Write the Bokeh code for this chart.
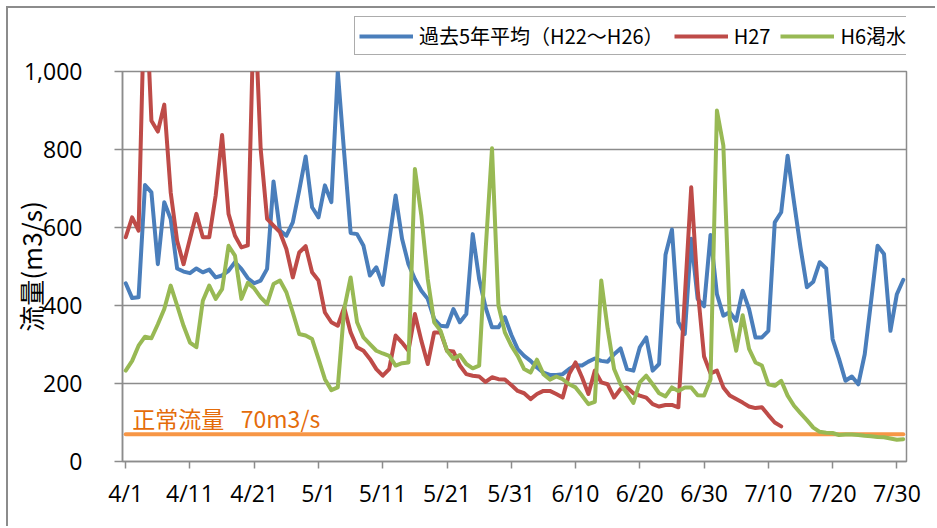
from bokeh.plotting import figure
from bokeh.layouts import column
from bokeh.models import (Range1d, FixedTicker, NumeralTickFormatter, Legend,
                          LegendItem, Label)
from bokeh.embed import file_html
from bokeh.resources import INLINE

# ---------------- data ----------------
TICK_DAYS = [0, 10, 20, 30, 40, 50, 60, 70, 80, 90, 100, 110, 120]
TICK_LABELS = ["4/1", "4/11", "4/21", "5/1", "5/11", "5/21", "5/31",
               "6/10", "6/20", "6/30", "7/10", "7/20", "7/30"]
Y_TICKS = [0, 200, 400, 600, 800, 1000]

SERIES_NAMES = ["過去5年平均（H22～H26）", "H27", "H6渇水"]

# daily flow 4/1 .. 7/31 (m3/s)
PAST5 = [457, 419, 421, 709, 690, 506, 665, 622, 495, 487,
         483, 495, 485, 492, 472, 477, 489, 511, 494, 470,
         457, 464, 494, 718, 592, 579, 613, 695, 782, 652,
         626, 708, 665, 1000, 790, 586, 583, 553, 477, 498,
         453, 566, 682, 571, 506, 468, 438, 417, 365, 348,
         346, 391, 357, 378, 583, 468, 395, 344, 344, 370,
         325, 288, 271, 258, 241, 228, 222, 222, 224, 237,
         247, 246, 256, 264, 258, 256, 275, 290, 237, 233,
         293, 318, 233, 250, 530, 595, 357, 327, 571, 417,
         398, 581, 429, 374, 383, 361, 438, 391, 318, 318,
         335, 613, 639, 784, 665, 549, 447, 461, 511, 495,
         314, 263, 207, 218, 198, 275, 412, 553, 532, 335,
         429, 466]

H27 = [575, 626, 592, 1250, 874, 846, 915, 690, 566, 506,
       571, 635, 575, 575, 682, 837, 635, 579, 549, 554,
       1200, 802, 622, 605, 588, 545, 472, 536, 552, 485,
       464, 382, 357, 348, 395, 331, 293, 284, 263, 237,
       220, 237, 323, 305, 284, 378, 310, 250, 331, 331,
       284, 282, 246, 224, 220, 218, 204, 216, 211, 210,
       196, 181, 175, 160, 173, 181, 181, 173, 164, 224,
       254, 216, 173, 233, 203, 198, 164, 186, 190, 175,
       169, 164, 147, 141, 145, 145, 139, 421, 703, 442,
       269, 226, 233, 190, 169, 160, 151, 141, 137, 139,
       119, 100, 90]

H6 = [233, 258, 297, 320, 316, 352, 391, 451, 400, 348,
      305, 293, 412, 451, 417, 442, 553, 528, 417, 458,
      444, 421, 404, 455, 464, 434, 382, 327, 323, 314,
      263, 211, 183, 190, 391, 472, 357, 318, 301, 284,
      277, 271, 246, 252, 254, 750, 631, 468, 357, 335,
      284, 263, 273, 250, 239, 246, 540, 803, 400, 331,
      297, 271, 237, 228, 261, 224, 210, 218, 211, 198,
      190, 169, 147, 153, 464, 340, 237, 198, 175, 150,
      203, 220, 198, 175, 167, 190, 181, 190, 190, 170,
      169, 210, 900, 810, 365, 284, 375, 289, 254, 246,
      198, 194, 207, 169, 143, 124, 106, 87, 76, 74,
      73, 68, 69, 69, 68, 66, 65, 63, 62, 59, 56, 57]

NORMAL_FLOW = 70
NORMAL_LABEL = "正常流量\u2002 70m3/s"
Y_LABEL = "流量(m3/s)"

DAYS = list(range(len(PAST5)))
SERIES = [PAST5, H27, H6]

# ---------------- style ----------------
BLUE = "#4A7EBB"
RED = "#BE4B48"
GREEN = "#98B954"
ORANGE = "#F79646"
ORANGE_TEXT = "#E46C0A"
GRAY = "#8C8C8C"
LATIN = "Open Sans"
CJK = "Noto Sans CJK JP"
COLORS = [BLUE, RED, GREEN]
LINE_W = 4

# ---------------- main chart ----------------
p = figure(width=927, height=471, output_backend="svg", toolbar_location=None,
           x_range=Range1d(-0.5, len(DAYS) - 0.5), y_range=Range1d(0, 1000),
           min_border_left=107, min_border_right=29,
           min_border_top=16, min_border_bottom=65)

p.background_fill_color = "white"
p.border_fill_color = "white"
p.outline_line_color = GRAY
p.outline_line_width = 1.5

p.xgrid.visible = False
p.ygrid.grid_line_color = GRAY
p.ygrid.grid_line_width = 1.5
p.ygrid.ticker = FixedTicker(ticks=Y_TICKS)

p.xaxis.ticker = FixedTicker(ticks=TICK_DAYS)
p.xaxis.major_label_overrides = {d: l for d, l in zip(TICK_DAYS, TICK_LABELS)}
p.yaxis.ticker = FixedTicker(ticks=Y_TICKS)
p.yaxis.formatter = NumeralTickFormatter(format="0,0")

for ax in (p.xaxis[0], p.yaxis[0]):
    ax.axis_line_color = GRAY
    ax.axis_line_width = 1.5
    ax.major_tick_line_color = GRAY
    ax.major_tick_line_width = 1.5
    ax.major_tick_in = 0
    ax.minor_tick_line_color = None
    ax.major_label_text_font = LATIN
    ax.major_label_text_font_size = "23px"
    ax.major_label_text_color = "#000000"

p.xaxis.major_tick_out = 7
p.xaxis.major_label_standoff = 8
p.yaxis.major_tick_out = 8
p.yaxis.major_label_standoff = 32

p.yaxis.axis_label = Y_LABEL
p.yaxis.axis_label_text_font = CJK
p.yaxis.axis_label_text_font_size = "26px"
p.yaxis.axis_label_text_font_style = "normal"
p.yaxis.axis_label_text_color = "#000000"
p.yaxis.axis_label_standoff = -28

line_kw = dict(line_width=LINE_W, line_join="round", line_cap="round")
p.line(DAYS, [NORMAL_FLOW] * len(DAYS), line_color=ORANGE, **line_kw)
for ys, col in zip(SERIES, COLORS):
    p.line(DAYS[:len(ys)], ys, line_color=col, **line_kw)

p.add_layout(Label(x=1, y=112, text=NORMAL_LABEL, text_color=ORANGE_TEXT,
                   text_font=CJK, text_font_size="23px",
                   text_baseline="alphabetic", text_align="left"))

# ---------------- legend strip (above the chart) ----------------
head = figure(width=927, height=47, output_backend="svg", toolbar_location=None,
              x_range=Range1d(0, 1), y_range=Range1d(0, 1),
              x_axis_location=None, y_axis_location=None, min_border=0)
head.outline_line_color = None
head.grid.visible = False
head.background_fill_color = "white"
head.border_fill_color = "white"

items = []
for name, ys, col in zip(SERIES_NAMES, SERIES, COLORS):
    # same series drawn in the strip's frame; its values lie far outside the
    # strip's 0..1 range, so only its legend glyph is visible
    r = head.line(DAYS[:len(ys)], ys, line_color=col, line_width=LINE_W)
    items.append(LegendItem(label=name, renderers=[r]))

legend = Legend(items=items, location=(232, 0), orientation="horizontal",
                margin=0, padding=4, spacing=10, label_standoff=6,
                glyph_width=54, glyph_height=20,
                label_text_font=CJK, label_text_font_size="20px",
                label_text_color="#000000",
                border_line_color="#595959", border_line_width=1.5,
                background_fill_color="white", background_fill_alpha=1)
head.add_layout(legend, "center")

page = column(head, p, spacing=0)
page.styles = {"margin-left": "6px", "margin-top": "6px",
               "border-left": "2px solid #8c8c8c", "border-top": "2px solid #8c8c8c"}

open("out.html", "w").write(file_html(page, INLINE))
